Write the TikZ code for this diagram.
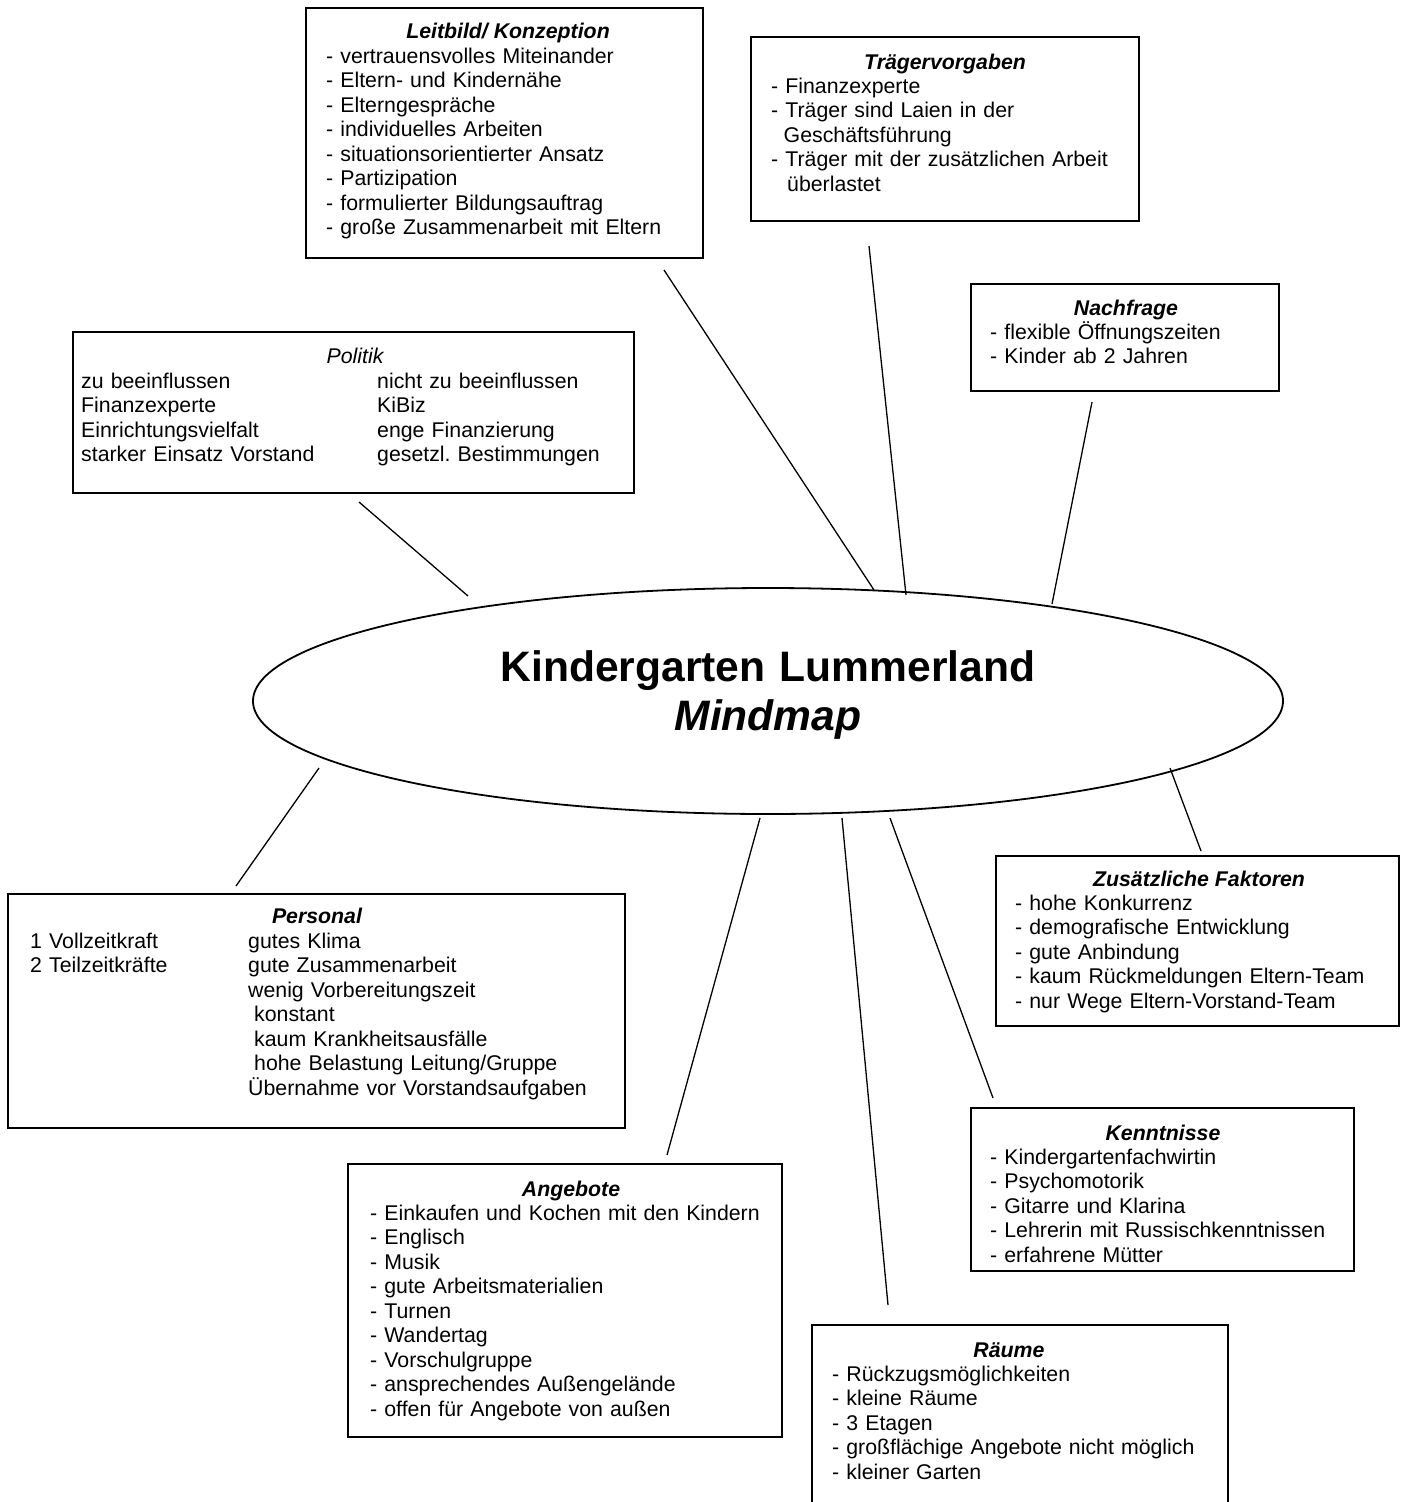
\documentclass[tikz,border=0pt]{standalone}
\usepackage{fontspec}
\setmainfont{Liberation Sans}
\usetikzlibrary{shapes.geometric}
\frenchspacing
\begin{document}
\begin{tikzpicture}[x=1pt,y=-1pt,
  boxframe/.style={draw, line width=1.7pt, inner sep=0pt, outer sep=0pt, anchor=north west},
  txt/.style={inner sep=0pt, anchor=base west, align=left, text width=560pt, font=\fontsize{21.3}{24.5}\selectfont\frenchspacing},
  ttl/.style={inner sep=0pt, anchor=base, font=\fontsize{21.3}{24.5}\selectfont\bfseries\itshape},
  conn/.style={draw, line width=1.3pt}]
\useasboundingbox (0,0) rectangle (1407,1502);
\clip (0,0) rectangle (1407,1502);

% ---------- central ellipse
\node[ellipse, draw, line width=1.8pt, minimum width=1030pt, minimum height=226pt, inner sep=0pt] (kg) at (768,701) {};
\node[inner sep=0pt, anchor=base, align=center, text width=700pt, font=\fontsize{42.6}{49}\selectfont\bfseries] (kgtitle) at (768,681) {Kindergarten Lummerland\\\textit{Mindmap}};

% ---------- Leitbild
\node[boxframe, minimum width=397pt, minimum height=250pt] (leit) at (306,8) {};
\node[ttl] (leitT) at (508,38) {Leitbild/ Konzeption};
\node[txt] (leitB) at (326,63) {- vertrauensvolles Miteinander\\- Eltern- und Kindernähe\\- Elterngespräche\\- individuelles Arbeiten\\- situationsorientierter Ansatz\\- Partizipation\\- formulierter Bildungsauftrag\\- große Zusammenarbeit mit Eltern};

% ---------- Trägervorgaben
\node[boxframe, minimum width=388pt, minimum height=184pt] (traeg) at (751,37) {};
\node[ttl] (traegT) at (945,69) {Trägervorgaben};
\node[txt] (traegB) at (771,93) {- Finanzexperte\\- Träger sind Laien in der\\\hspace*{12.5pt}Geschäftsführung\\- Träger mit der zusätzlichen Arbeit\\\hspace*{16pt}überlastet};

% ---------- Nachfrage
\node[boxframe, minimum width=308pt, minimum height=107pt] (nach) at (971,284) {};
\node[ttl] (nachT) at (1126,315) {Nachfrage};
\node[txt] (nachB) at (990,339) {- flexible Öffnungszeiten\\- Kinder ab 2 Jahren};

% ---------- Politik
\node[boxframe, minimum width=561pt, minimum height=161pt] (pol) at (73,332) {};
\node[inner sep=0pt, anchor=base, font=\fontsize{21.3}{24.5}\selectfont\itshape] (polT) at (355,363.5) {Politik};
\node[txt, text width=290pt] (polL) at (81,388) {zu beeinflussen\\Finanzexperte\\Einrichtungsvielfalt\\starker Einsatz Vorstand};
\node[txt, text width=250pt] (polR) at (377,388) {nicht zu beeinflussen\\KiBiz\\enge Finanzierung\\gesetzl.\ Bestimmungen};

% ---------- Personal
\node[boxframe, minimum width=617pt, minimum height=234pt] (pers) at (8,894) {};
\node[ttl] (persT) at (317,923.5) {Personal};
\node[txt, text width=210pt] (persL) at (30,948) {1 Vollzeitkraft\\2 Teilzeitkräfte};
\node[txt, text width=370pt] (persR) at (248,948) {gutes Klima\\gute Zusammenarbeit\\wenig Vorbereitungszeit\\\hspace*{6pt}konstant\\\hspace*{6pt}kaum Krankheitsausfälle\\\hspace*{6pt}hohe Belastung Leitung/Gruppe\\Übernahme vor Vorstandsaufgaben};

% ---------- Zusätzliche Faktoren
\node[boxframe, minimum width=403pt, minimum height=170pt] (zus) at (996,856) {};
\node[ttl] (zusT) at (1199,886) {Zusätzliche Faktoren};
\node[txt, text width=380pt] (zusB) at (1015,910) {- hohe Konkurrenz\\- demografische Entwicklung\\- gute Anbindung\\- kaum Rückmeldungen Eltern-Team\\- nur Wege Eltern-Vorstand-Team};

% ---------- Kenntnisse
\node[boxframe, minimum width=383pt, minimum height=163pt] (kenn) at (971,1108) {};
\node[ttl] (kennT) at (1163,1140) {Kenntnisse};
\node[txt, text width=360pt] (kennB) at (990,1164) {- Kindergartenfachwirtin\\- Psychomotorik\\- Gitarre und Klarina\\- Lehrerin mit Russischkenntnissen\\- erfahrene Mütter};

% ---------- Angebote
\node[boxframe, minimum width=434pt, minimum height=273pt] (ang) at (348,1164) {};
\node[ttl] (angT) at (571,1196) {Angebote};
\node[txt, text width=410pt] (angB) at (370,1220) {- Einkaufen und Kochen mit den Kindern\\- Englisch\\- Musik\\- gute Arbeitsmaterialien\\- Turnen\\- Wandertag\\- Vorschulgruppe\\- ansprechendes Außengelände\\- offen für Angebote von außen};

% ---------- Räume
\node[boxframe, minimum width=416pt, minimum height=200pt] (raum) at (812,1325) {};
\node[ttl] (raumT) at (1009,1357) {Räume};
\node[txt, text width=400pt] (raumB) at (832,1381) {- Rückzugsmöglichkeiten\\- kleine Räume\\- 3 Etagen\\- großflächige Angebote nicht möglich\\- kleiner Garten};

% ---------- connectors
\coordinate (c1a) at (664,270);  \coordinate (c1b) at (874,590);
\coordinate (c2a) at (869,246);  \coordinate (c2b) at (906,595);
\coordinate (c3a) at (1092,402); \coordinate (c3b) at (1052,604);
\coordinate (c4a) at (359,502);  \coordinate (c4b) at (468,596);
\coordinate (c5a) at (319,768);  \coordinate (c5b) at (236,886);
\coordinate (c6a) at (1170,768); \coordinate (c6b) at (1201,851);
\coordinate (c7a) at (890,818);  \coordinate (c7b) at (993,1098);
\coordinate (c8a) at (760,818);  \coordinate (c8b) at (667,1155);
\coordinate (c9a) at (842,818);  \coordinate (c9b) at (888,1305);
\foreach \i in {1,...,9} {\draw[conn] (c\i a) -- (c\i b);}
\end{tikzpicture}
\end{document}
